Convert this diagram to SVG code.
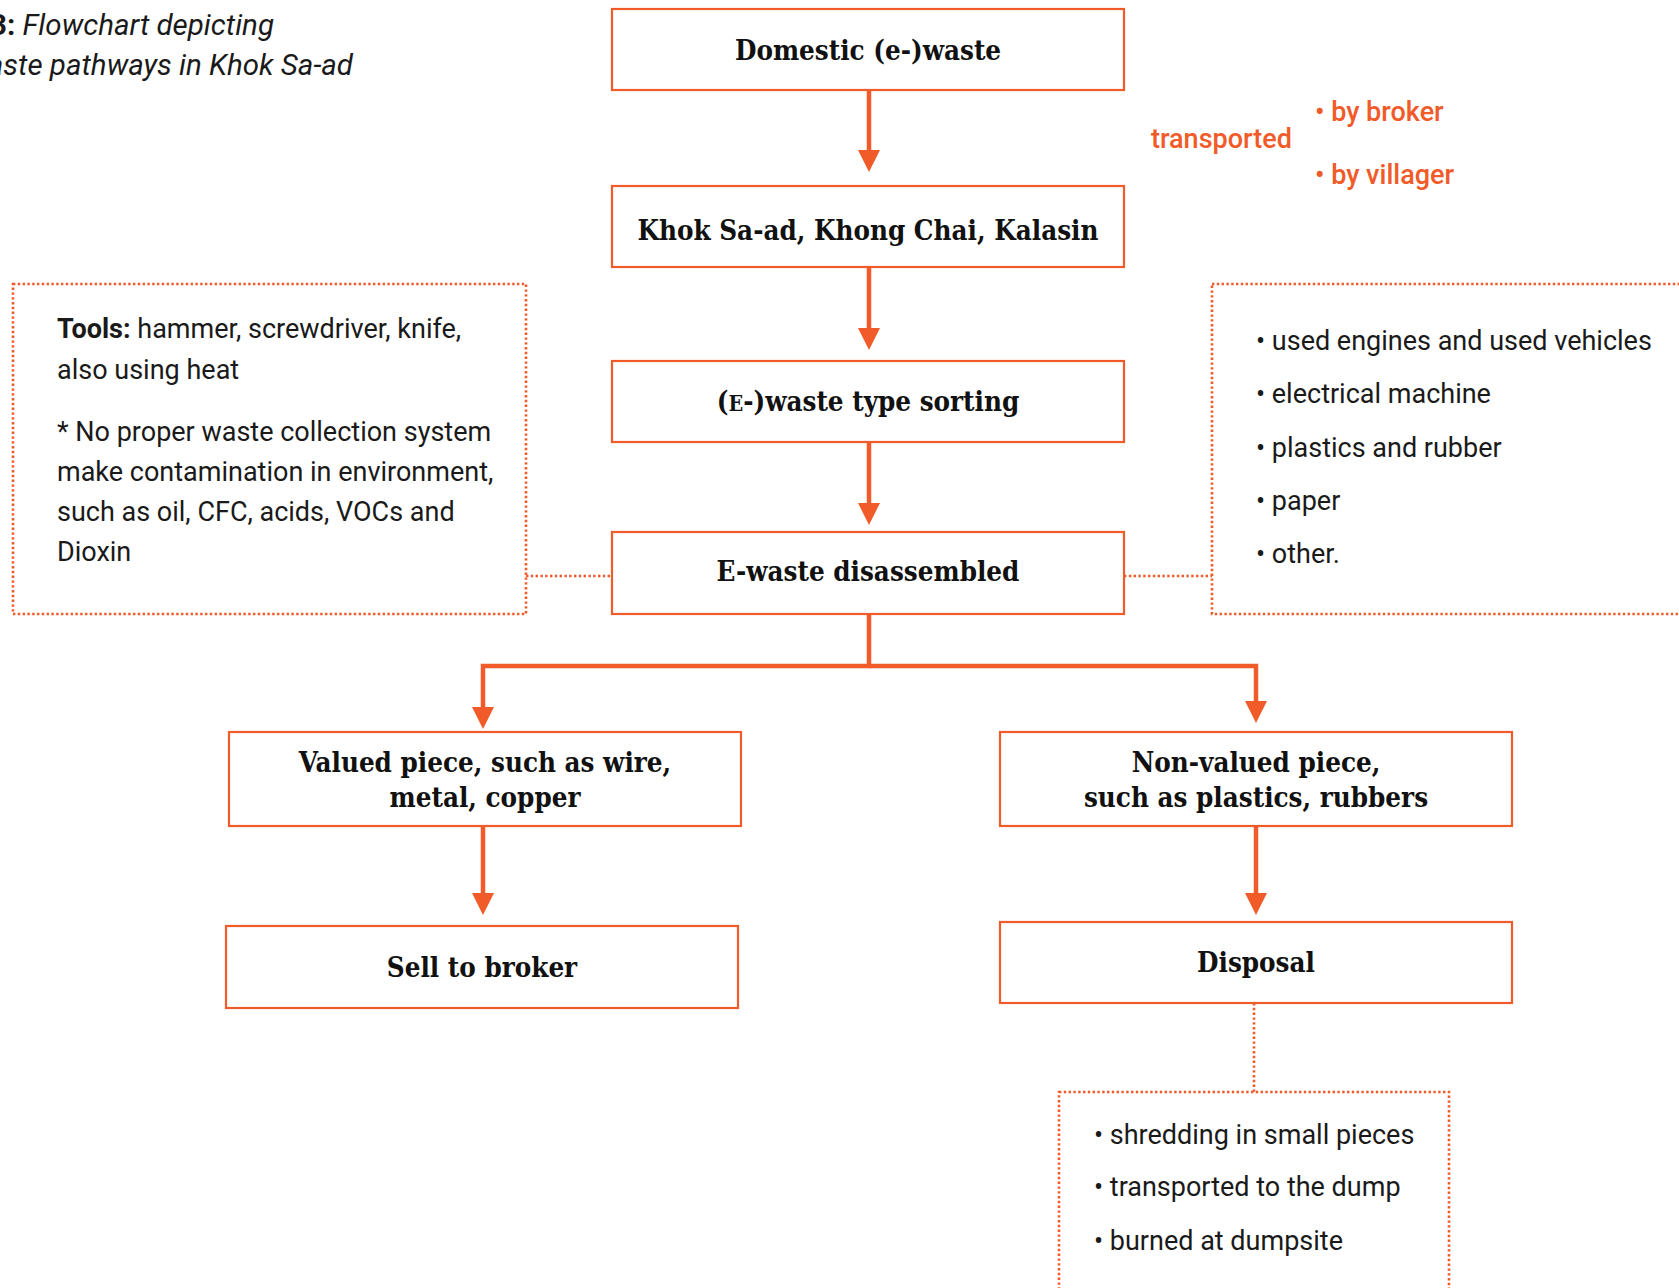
<svg xmlns="http://www.w3.org/2000/svg" width="1679" height="1288" viewBox="0 0 1679 1288">
<defs>
<style>
.box{fill:#fff;stroke:#F15A29;stroke-width:2.2}
.dot{fill:none;stroke:#F15A29;stroke-width:2.6;stroke-dasharray:2.4 2.4}
.h{font-family:"DejaVu Serif","Liberation Serif",serif;font-weight:bold;font-size:27.5px;fill:#111;text-anchor:middle;font-stretch:condensed}
.b{font-family:Roboto,"Liberation Sans",sans-serif;font-size:27px;fill:#1a1a1a}
.o{font-family:Roboto,"Liberation Sans",sans-serif;font-size:27px;font-weight:500;fill:#F15A29}
.t{font-family:Roboto,"Liberation Sans",sans-serif;font-size:29.5px;font-style:italic;fill:#1a1a1a}
.arr{fill:none;stroke:#F15A29;stroke-width:4.5}
</style>
<marker id="ah" markerUnits="userSpaceOnUse" markerWidth="24" markerHeight="24" refX="0" refY="11" orient="auto">
<path d="M0,0 L22,11 L0,22 z" fill="#F15A29"/>
</marker>
</defs>
<rect width="1679" height="1288" fill="#fff"/>

<g id="title">
<text class="t" x="274" y="35" text-anchor="end"><tspan font-weight="bold" font-style="normal">3:</tspan> Flowchart depicting</text>
<text class="t" x="353" y="75" text-anchor="end">aste pathways in Khok Sa-ad</text>
</g>

<g id="connectors">
<line class="arr" x1="869" y1="90" x2="869" y2="150" marker-end="url(#ah)"/>
<line class="arr" x1="869" y1="267" x2="869" y2="328" marker-end="url(#ah)"/>
<line class="arr" x1="869" y1="442" x2="869" y2="503" marker-end="url(#ah)"/>
<path class="arr" d="M869,614 V666 H483 V707" marker-end="url(#ah)"/>
<path class="arr" d="M869,666 H1256 V701" marker-end="url(#ah)"/>
<line class="arr" x1="483" y1="826" x2="483" y2="893" marker-end="url(#ah)"/>
<line class="arr" x1="1256" y1="826" x2="1256" y2="893" marker-end="url(#ah)"/>
<line class="dot" x1="526" y1="576" x2="612" y2="576"/>
<line class="dot" x1="1124" y1="576" x2="1212" y2="576"/>
<line class="dot" x1="1254" y1="1003" x2="1254" y2="1092"/>
</g>

<g id="domestic">
<rect class="box" x="612" y="9" width="512" height="81"/>
<text class="h" x="868" y="60">Domestic (e-)waste</text>
</g>

<g id="transport">
<text class="o" x="1151" y="148">transported</text>
<text class="o" x="1315" y="121">• by broker</text>
<text class="o" x="1315" y="184">• by villager</text>
</g>

<g id="khok">
<rect class="box" x="612" y="186" width="512" height="81"/>
<text class="h" x="868" y="240">Khok Sa-ad, Khong Chai, Kalasin</text>
</g>

<g id="sorting">
<rect class="box" x="612" y="361" width="512" height="81"/>
<text class="h" x="868" y="411">(<tspan font-size="21.5">E</tspan>-)waste type sorting</text>
</g>

<g id="disassembled">
<rect class="box" x="612" y="532" width="512" height="82"/>
<text class="h" x="868" y="581">E-waste disassembled</text>
</g>

<g id="tools">
<rect class="dot" x="13" y="284" width="513" height="330"/>
<text class="b" x="57" y="338"><tspan font-weight="bold">Tools:</tspan> hammer, screwdriver, knife,</text>
<text class="b" x="57" y="379">also using heat</text>
<text class="b" x="57" y="441">* No proper waste collection system</text>
<text class="b" x="57" y="481">make contamination in environment,</text>
<text class="b" x="57" y="521">such as oil, CFC, acids, VOCs and</text>
<text class="b" x="57" y="561">Dioxin</text>
</g>

<g id="types">
<rect class="dot" x="1212" y="284" width="500" height="330"/>
<text class="b" x="1256" y="350">• used engines and used vehicles</text>
<text class="b" x="1256" y="403">• electrical machine</text>
<text class="b" x="1256" y="457">• plastics and rubber</text>
<text class="b" x="1256" y="510">• paper</text>
<text class="b" x="1256" y="563">• other.</text>
</g>

<g id="valued">
<rect class="box" x="229" y="732" width="512" height="94"/>
<text class="h" x="485" y="772">Valued piece, such as wire,</text>
<text class="h" x="485" y="807">metal, copper</text>
</g>

<g id="nonvalued">
<rect class="box" x="1000" y="732" width="512" height="94"/>
<text class="h" x="1256" y="772">Non-valued piece,</text>
<text class="h" x="1256" y="807">such as plastics, rubbers</text>
</g>

<g id="sell">
<rect class="box" x="226" y="926" width="512" height="82"/>
<text class="h" x="482" y="977">Sell to broker</text>
</g>

<g id="disposal">
<rect class="box" x="1000" y="922" width="512" height="81"/>
<text class="h" x="1256" y="972">Disposal</text>
</g>

<g id="disposal-methods">
<rect class="dot" x="1059" y="1092" width="390" height="220"/>
<text class="b" x="1094" y="1144">• shredding in small pieces</text>
<text class="b" x="1094" y="1196">• transported to the dump</text>
<text class="b" x="1094" y="1250">• burned at dumpsite</text>
</g>
</svg>
